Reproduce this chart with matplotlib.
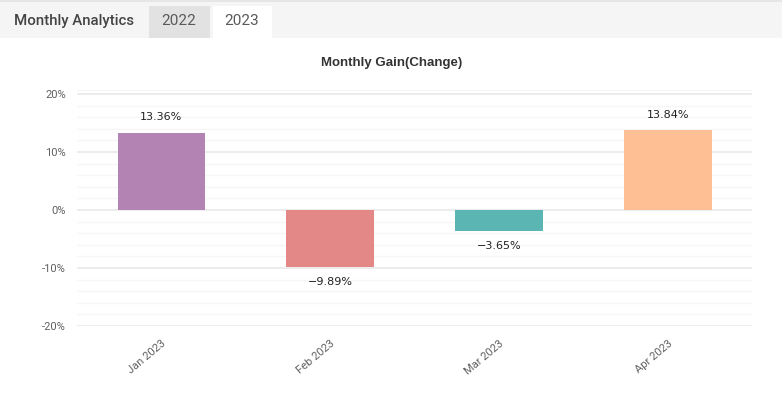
import numpy as np
import matplotlib
matplotlib.use("Agg")
from matplotlib import pyplot as plt
from matplotlib.patches import Rectangle

months = ["Jan 2023", "Feb 2023", "Mar 2023", "Apr 2023"]
gains = [13.36, -9.89, -3.65, 13.84]
bar_colors = ["#b384b3", "#e38886", "#5bb5b2", "#ffbf94"]
yticks = [-20, -10, 0, 10, 20]
tabs = ["2022", "2023"]

plt.rcParams['font.family'] = ['Roboto', 'DejaVu Sans']

fig = plt.figure(figsize=(7.82, 3.95), dpi=100)
W, H = 782, 395

# header band with tabs
fig.patches.append(Rectangle((0, 1 - 38 / H), 1, 38 / H, transform=fig.transFigure,
                             facecolor="#f5f5f5", edgecolor="none", zorder=0))
fig.patches.append(Rectangle((0, 1 - 1.5 / H), 1, 1.5 / H, transform=fig.transFigure,
                             facecolor="#e6e6e6", edgecolor="none", zorder=0))
fig.patches.append(Rectangle((149 / W, 1 - 38 / H), 61 / W, 32 / H, transform=fig.transFigure,
                             facecolor="#e2e2e2", edgecolor="none", zorder=1))
fig.patches.append(Rectangle((213 / W, 1 - 39 / H), 59 / W, 33 / H, transform=fig.transFigure,
                             facecolor="white", edgecolor="none", zorder=1))
fig.text(14 / W, 1 - 21 / H, "Monthly Analytics", fontsize=10.8, fontweight="medium",
         color="#444444", va="center", ha="left")
fig.text(179 / W, 1 - 21 / H, tabs[0], fontsize=11, color="#5a5a5a", va="center", ha="center")
fig.text(242 / W, 1 - 21 / H, tabs[1], fontsize=11, color="#5a5a5a", va="center", ha="center")

fig.text(392 / W, 1 - 63 / H, "Monthly Gain(Change)", fontsize=9.5, fontweight="bold",
         color="#333333", va="center", ha="center", family=["Liberation Sans", "DejaVu Sans"])

ax = fig.add_axes([77 / W, 1 - 326 / H, 675 / W, 236 / H])
x = np.arange(len(months))
bars = ax.bar(x, gains, width=0.52, color=bar_colors, zorder=3)

ax.set_xlim(-0.5, len(months) - 0.5)
ax.set_ylim(-20, 20.7)
ax.set_yticks(yticks)
ax.set_yticklabels([f"{t}%" for t in yticks])
ax.set_yticks(np.arange(-20, 21, 2), minor=True)
ax.grid(axis="y", which="major", color="#ebebeb", linewidth=1.3, zorder=0)
ax.grid(axis="y", which="minor", color="#f6f6f6", linewidth=1.0, zorder=0)
ax.axhline(20.7, color="#f2f2f2", linewidth=1.2, zorder=0)

for s in ax.spines.values():
    s.set_visible(False)
ax.tick_params(axis="both", which="both", length=0, colors="#606060", labelsize=8)
ax.tick_params(axis="y", pad=8)

ax.set_xticks(x)
ax.set_xticklabels(months, rotation=40, ha="right", rotation_mode="anchor")
ax.tick_params(axis="x", pad=9)

for xi, g in zip(x, gains):
    off = 2.6 if g > 0 else -2.6
    ax.text(xi, g + off, f"{g:.2f}%".replace("-", "\u2212"), ha="center", va="center",
            fontsize=8, color="#222222", family=["DejaVu Sans"])

fig.savefig("out.png", dpi=100)
